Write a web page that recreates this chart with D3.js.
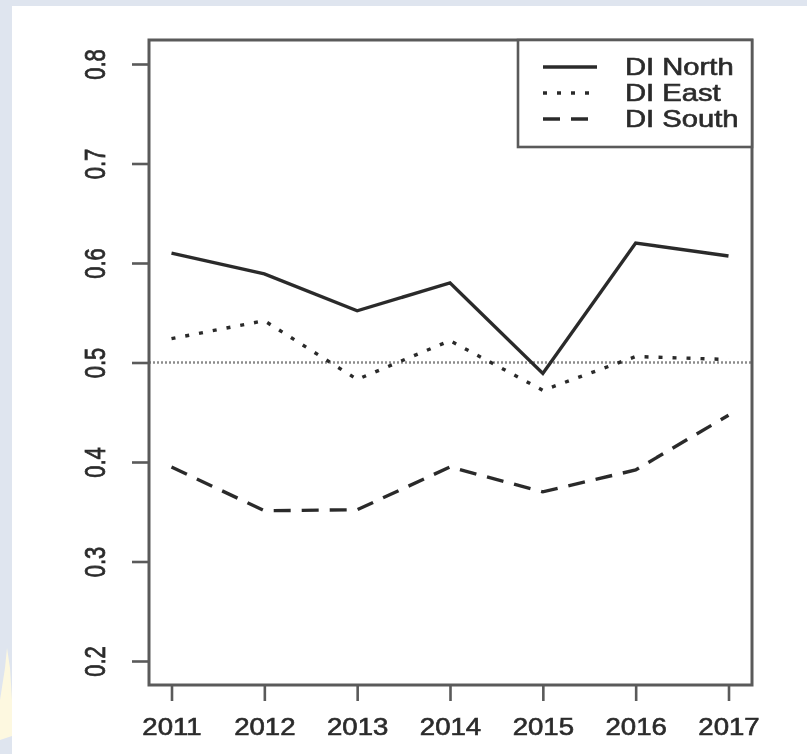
<!DOCTYPE html>
<html>
<head>
<meta charset="utf-8">
<script src="https://cdn.jsdelivr.net/npm/d3@7"></script>
<style>
  html, body { margin: 0; padding: 0; background: #ffffff; }
  svg { display: block; }
  text { font-family: "Liberation Sans", Arial, Helvetica, sans-serif; }
</style>
</head>
<body>
<svg id="chart" width="807" height="754"></svg>
<script>
// Years on the horizontal axis
const years = [2011, 2012, 2013, 2014, 2015, 2016, 2017];
// Index values by region
const diNorth = [0.610, 0.589, 0.552, 0.580, 0.489, 0.620, 0.607];
const diEast  = [0.524, 0.542, 0.483, 0.522, 0.472, 0.506, 0.503];
const diSouth = [0.395, 0.351, 0.352, 0.395, 0.370, 0.392, 0.447];
// Axis ticks
const yTicks = [0.2, 0.3, 0.4, 0.5, 0.6, 0.7, 0.8];
const seriesNames = ["DI North", "DI East", "DI South"];
const refValue = 0.5;

const svg = d3.select("#chart");
const W = 807, H = 754;

// slide backdrop
svg.append("rect").attr("width", W).attr("height", H).attr("fill", "#dfe5ef");
svg.append("path")
  .attr("d", "M0,740 L0,700 L5,668 L7,648 L10,668 L12,700 L12,736 Z")
  .attr("fill", "#fdf8e0");
svg.append("rect").attr("x", 12).attr("y", 6).attr("width", W - 12).attr("height", H - 6).attr("fill", "#ffffff");

const defs = svg.append("defs");
defs.append("filter").attr("id", "soft")
  .append("feGaussianBlur").attr("stdDeviation", 0.6);

const g = svg.append("g").attr("filter", "url(#soft)");

const box = { left: 149, right: 752, top: 40, bottom: 685 };
const x = d3.scaleLinear().domain([2011, 2017]).range([171.5, 728.5]);
const y = d3.scaleLinear().domain([0.2, 0.8]).range([661, 64]);

const ink = "#2c2c2c";
const textStroke = 0.6;

// reference line at 0.5
g.append("line")
  .attr("x1", box.left).attr("x2", box.right)
  .attr("y1", y(refValue)).attr("y2", y(refValue))
  .attr("stroke", "#8c8c8c").attr("stroke-width", 2.4)
  .attr("stroke-dasharray", "2,2");

const series = [
  { name: seriesNames[0], values: diNorth, dash: null },
  { name: seriesNames[1], values: diEast,  dash: "4,10" },
  { name: seriesNames[2], values: diSouth, dash: "17,11" }
];

const line = d3.line().x((d, i) => x(years[i])).y(d => y(d));

series.forEach(s => {
  g.append("path")
    .datum(s.values)
    .attr("d", line)
    .attr("fill", "none")
    .attr("stroke", ink)
    .attr("stroke-width", 3.4)
    .attr("stroke-dasharray", s.dash);
});

// plot frame
g.append("rect")
  .attr("x", box.left).attr("y", box.top)
  .attr("width", box.right - box.left).attr("height", box.bottom - box.top)
  .attr("fill", "none").attr("stroke", "#5a5a5a").attr("stroke-width", 3);

// x axis
const xAxis = g.append("g")
  .attr("transform", `translate(0,${box.bottom})`)
  .call(d3.axisBottom(x).tickValues(years).tickFormat(d3.format("d")).tickSize(16).tickPadding(0));
xAxis.select(".domain").remove();
xAxis.selectAll(".tick line").attr("stroke", "#5a5a5a").attr("stroke-width", 2.6);
xAxis.selectAll(".tick text")
  .attr("y", 0).attr("dy", "0.36em")
  .attr("transform", "translate(0,42) scale(1.2,1)")
  .attr("fill", ink).attr("stroke", ink).attr("stroke-width", textStroke)
  .attr("font-size", 23);

// y axis
const yAxis = g.append("g")
  .attr("transform", `translate(${box.left},0)`)
  .call(d3.axisLeft(y).tickValues(yTicks).tickFormat(d3.format(".1f")).tickSize(17).tickPadding(0));
yAxis.select(".domain").remove();
yAxis.selectAll(".tick line").attr("stroke", "#5a5a5a").attr("stroke-width", 2.6);
yAxis.selectAll(".tick text")
  .attr("x", 0).attr("dy", "0.36em")
  .attr("text-anchor", "middle")
  .attr("transform", "translate(-54,0) scale(1.3,1) rotate(-90)")
  .attr("fill", ink).attr("stroke", ink).attr("stroke-width", textStroke)
  .attr("font-size", 22);

// legend
const legend = g.append("g");
legend.append("rect")
  .attr("x", 518).attr("y", box.top)
  .attr("width", box.right - 518).attr("height", 107)
  .attr("fill", "#ffffff").attr("stroke", "#5a5a5a").attr("stroke-width", 2.6);
const rowY = [67, 93, 119];
series.forEach((s, i) => {
  legend.append("line")
    .attr("x1", 543).attr("x2", 597)
    .attr("y1", rowY[i]).attr("y2", rowY[i])
    .attr("stroke", ink).attr("stroke-width", 3.4)
    .attr("stroke-dasharray", i === 1 ? "4,10" : (i === 2 ? "17,11" : null));
  legend.append("text")
    .attr("transform", `translate(625,${rowY[i]}) scale(1.27,1)`)
    .attr("dy", "0.36em")
    .attr("fill", ink).attr("stroke", ink).attr("stroke-width", textStroke)
    .attr("font-size", 23)
    .text(s.name);
});
</script>
</body>
</html>
